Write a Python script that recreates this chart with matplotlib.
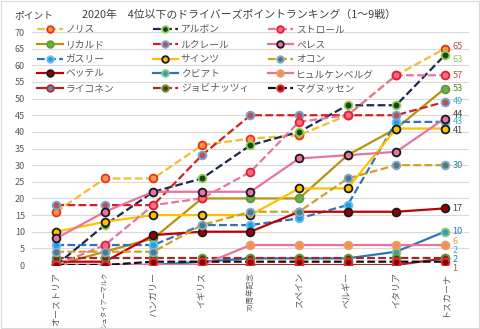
import matplotlib
matplotlib.use("Agg")
import matplotlib.pyplot as plt

plt.rcParams['font.family'] = ['Noto Sans CJK JP', 'DejaVu Sans']

races = ["オーストリア", "シュタイアーマルク", "ハンガリー", "イギリス", "70周年記念",
         "スペイン", "ベルギー", "イタリア", "トスカーナ"]

names = ["ノリス", "リカルド", "ガスリー", "ベッテル", "ライコネン",
         "アルボン", "ルクレール", "サインツ", "クビアト", "ジョビナッツィ",
         "ストロール", "ペレス", "オコン", "ヒュルケンベルグ", "マグヌッセン"]

norris      = [16, 26, 26, 36, 38, 39, 45, 57, 65]
ricciardo   = [0, 4, 8, 20, 20, 20, 33, 41, 53]
gasly       = [6, 6, 6, 12, 12, 14, 18, 43, 43]
vettel      = [1, 1, 9, 10, 10, 16, 16, 16, 17]
raikkonen   = [0, 0, 0, 0, 0, 0, 0, 0, 2]
albon       = [0, 12, 22, 26, 36, 40, 48, 48, 63]
leclerc     = [18, 18, 18, 33, 45, 45, 45, 45, 49]
sainz       = [10, 13, 15, 15, 15, 23, 23, 41, 41]
kvyat       = [0, 0, 0, 1, 2, 2, 2, 4, 10]
giovinazzi  = [2, 2, 2, 2, 2, 2, 2, 2, 2]
stroll      = [0, 6, 18, 20, 28, 43, 45, 57, 57]
perez       = [8, 16, 22, 22, 22, 32, 33, 34, 44]
ocon        = [4, 4, 4, 12, 16, 16, 26, 30, 30]
hulkenberg  = [0, 0, 0, 0, 6, 6, 6, 6, 6]
magnussen   = [0, 0, 1, 1, 1, 1, 1, 1, 1]

series = [norris, ricciardo, gasly, vettel, raikkonen,
          albon, leclerc, sainz, kvyat, giovinazzi,
          stroll, perez, ocon, hulkenberg, magnussen]

# style: (line color, linestyle, marker face, marker edge)
styles = [
    ("#F2BE2E", (0, (3.5, 1.5)), "#F79646", "#E8321E"),  # ノリス
    ("#B8920E", "-",            "#70AD47", "#5E9A38"),  # リカルド
    ("#2E75B6", (0, (3.5, 1.5)), "#1FA0E4", "#6FC0EA"),  # ガスリー
    ("#C00000", "-",            "#9B0000", "#1A1A1A"),  # ベッテル
    ("#A8262A", "-",            "#6A82B8", "#B03030"),  # ライコネン
    ("#1B2A4A", (0, (3.5, 1.5)), "#15461E", "#92D050"),  # アルボン
    ("#D42020", (0, (3.5, 1.5)), "#C0504D", "#6FA8DC"),  # ルクレール
    ("#FFC000", "-",            "#FFC000", "#1A1A1A"),  # サインツ
    ("#2E75B6", "-",            "#3AA0A8", "#7FC98A"),  # クビアト
    ("#A0282A", (0, (3.5, 1.5)), "#7B2A10", "#5FA042"),  # ジョビナッツィ
    ("#E8739F", (0, (3.5, 1.5)), "#FF6A85", "#E02030"),  # ストロール
    ("#E8739F", "-",            "#E8739F", "#1A1A1A"),  # ペレス
    ("#C9A227", (0, (3.5, 1.5)), "#4A7B8C", "#8EA9C4"),  # オコン
    ("#E8739F", "-",            "#EE9060", "#E8A060"),  # ヒュルケンベルグ
    ("#111111", (0, (3.5, 1.5)), "#8B0000", "#E03030"),  # マグヌッセン
]

end_label_colors = ["#C0504D", "#548235", "#4BACC6", "#404040", "#4BACC6",
                    "#9BBB59", "#4BACC6", "#404040", "#2E75B6", "#31859C",
                    "#C0504D", "#404040", "#31859C", "#E0A040", "#C0504D"]
end_label_dy = [0.5, 0, 0, 0, 2.3, -1.3, 0, -0.5, 0, -0.3, 0, 1.3, 0, 1.0, -1.9]

fig = plt.figure(figsize=(4.8, 3.29), dpi=100)
ax = fig.add_axes([0.0667, 0.1945, 0.9103, 0.7082])

x = list(range(len(races)))
order = [0, 5, 10, 1, 6, 11, 2, 7, 12, 3, 8, 13, 9, 4, 14]
handles = {}
for i in order:
    lc, ls, mf, me = styles[i]
    h, = ax.plot(x, series[i], color=lc, linestyle=ls, linewidth=1.6,
                 marker='o', markersize=5.6, markerfacecolor=mf,
                 markeredgecolor=me, markeredgewidth=1.3, zorder=3 + i * 0.01)
    handles[i] = h

for i in range(len(series)):
    v = series[i][-1]
    ax.text(len(races) - 1 + 0.16, v + end_label_dy[i], str(v),
            color=end_label_colors[i], fontsize=6.6, va='center', ha='left',
            clip_on=False, zorder=5)

ax.set_xlim(-0.5, len(races) - 0.5)
ax.set_ylim(0, 70)
ax.set_yticks(range(0, 71, 5))
ax.yaxis.grid(True, color="#D9D9D9", linewidth=0.8)
ax.set_axisbelow(True)
for s in ax.spines.values():
    s.set_visible(False)
ax.tick_params(axis='both', length=0, labelsize=6.5, colors="#595959")
ax.tick_params(axis='y', pad=5)
ax.tick_params(axis='x', pad=5)
ax.set_xticks(x)
ax.set_xticklabels(races, rotation=90, va='top', ha='center')
for lab in ax.get_xticklabels():
    if lab.get_text() == "シュタイアーマルク":
        lab.set_fontsize(4.6)
    if lab.get_text() == "70周年記念":
        lab.set_fontsize(5.5)

# legends: three columns placed separately
col_x = [0.078, 0.318, 0.558]
for c in range(3):
    hs = [handles[c * 5 + r] for r in range(5)]
    ls_ = [names[c * 5 + r] for r in range(5)]
    leg = fig.legend(hs, ls_, loc='upper left', bbox_to_anchor=(col_x[c], 0.925),
                     frameon=False, fontsize=7, handlelength=2.6, handletextpad=0.3,
                     labelspacing=0.48, borderaxespad=0, borderpad=0, markerscale=0.85)
    for t in leg.get_texts():
        t.set_color("#595959")

fig.text(0.03, 0.955, "ポイント", fontsize=7, color="#404040", va='center', ha='left')
fig.text(0.497, 0.955, "2020年　4位以下のドライバーズポイントランキング（1～9戦）",
         fontsize=7.8, color="#404040", va='center', ha='center')

fig.patches.append(plt.Rectangle((0.002, 0.003), 0.996, 0.994, transform=fig.transFigure,
                                 fill=False, edgecolor="#D9D9D9", linewidth=0.8))

fig.savefig("out.png", dpi=100)
